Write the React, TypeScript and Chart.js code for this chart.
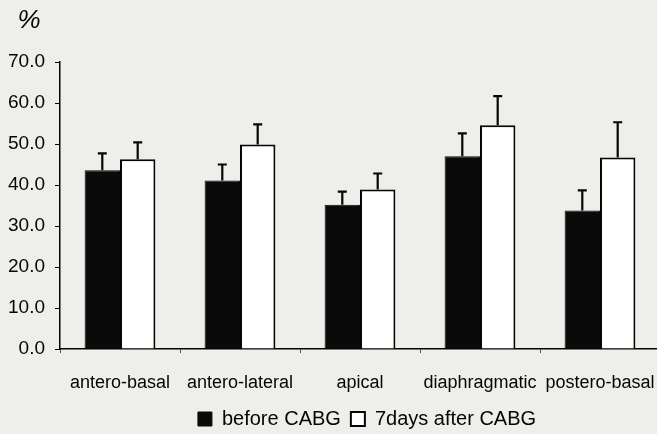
import React, { useEffect, useRef } from 'react';
import { Chart, registerables } from 'chart.js';

Chart.register(...registerables);

const categories = ['antero-basal', 'antero-lateral', 'apical', 'diaphragmatic', 'postero-basal'];
const beforeValues = [43.6, 41.1, 35.2, 47.0, 33.8];
const beforeErrors = [4.1, 3.9, 3.2, 5.6, 4.9];
const afterValues = [46.3, 49.9, 38.9, 54.6, 46.7];
const afterErrors = [4.1, 4.9, 3.9, 7.1, 8.6];
const seriesLabels = ['before CABG', '7days after CABG'];
const yMin = 0;
const yMax = 70;
const yStep = 10;

const FAMILY = '"Liberation Sans", Arial, Helvetica, sans-serif';
const INK = '#050505';

export default function App() {
  const ref = useRef<HTMLCanvasElement>(null);

  useEffect(() => {
    if (!ref.current) return;
    const errors = [beforeErrors, afterErrors];
    const errorBars = {
      id: 'errorBars',
      afterDatasetsDraw(chart: any) {
        const ctx = chart.ctx;
        const y = chart.scales.y;
        ctx.save();
        ctx.strokeStyle = INK;
        ctx.lineWidth = 2.2;
        chart.data.datasets.forEach((ds: any, di: number) => {
          const meta = chart.getDatasetMeta(di);
          meta.data.forEach((el: any, i: number) => {
            const v = ds.data[i] as number;
            const top = y.getPixelForValue(v + errors[di][i]);
            const x = el.x;
            ctx.beginPath();
            ctx.moveTo(x, el.y);
            ctx.lineTo(x, top);
            ctx.moveTo(x - 4.5, top);
            ctx.lineTo(x + 4.5, top);
            ctx.stroke();
          });
        });
        ctx.restore();
      },
    };
    const percentLabel = {
      id: 'percentLabel',
      afterDraw(chart: any) {
        const ctx = chart.ctx;
        ctx.save();
        ctx.fillStyle = INK;
        ctx.font = `italic 26px ${FAMILY}`;
        ctx.textAlign = 'center';
        ctx.textBaseline = 'middle';
        ctx.fillText('%', 29, 21);
        ctx.restore();
      },
    };
    const legendNudge = {
      id: 'legendNudge',
      afterLayout(chart: any) {
        const lg = chart.legend;
        if (!lg) return;
        lg.left += 37;
        lg.right += 37;
        lg.top += 5;
        lg.bottom += 5;
      },
    };

    const chart = new Chart(ref.current, {
      type: 'bar',
      data: {
        labels: categories,
        datasets: [
          {
            label: seriesLabels[0],
            data: beforeValues,
            backgroundColor: '#0a0a0a',
            borderColor: '#0a0a0a',
            borderWidth: 1,
          },
          {
            label: seriesLabels[1],
            data: afterValues,
            backgroundColor: '#ffffff',
            borderColor: INK,
            borderWidth: 2,
          },
        ],
      },
      options: {
        responsive: false,
        animation: false,
        datasets: { bar: { categoryPercentage: 0.59, barPercentage: 1 } },
        layout: { padding: { top: 62, left: 0, right: 0, bottom: 0 } },
        plugins: {
          legend: {
            position: 'bottom',
            labels: {
              boxWidth: 14,
              boxHeight: 14,
              color: INK,
              padding: 10,
              font: { size: 20, family: FAMILY },
            },
          },
          tooltip: { enabled: false },
          title: { display: false },
        },
        scales: {
          x: {
            grid: { drawOnChartArea: false, drawTicks: true, tickLength: 4, color: '#555' },
            border: { color: INK, width: 1.5 },
            ticks: {
              color: INK,
              padding: 19,
              maxRotation: 0,
              autoSkip: false,
              font: { size: 18, family: FAMILY },
            },
            afterFit(s: any) {
              s.height = 45;
              s.paddingLeft = 0;
              s.paddingRight = 0;
            },
          },
          y: {
            min: yMin,
            max: yMax,
            grid: { drawOnChartArea: false, drawTicks: true, tickLength: 5, color: INK },
            border: { color: INK, width: 1.5 },
            ticks: {
              stepSize: yStep,
              padding: 10,
              color: INK,
              font: { size: 19, family: FAMILY },
              callback: (v: any) => Number(v).toFixed(1),
            },
            afterFit(s: any) {
              s.width = 60;
            },
          },
        },
      },
      plugins: [errorBars, percentLabel, legendNudge],
    });
    return () => chart.destroy();
  }, []);

  return (
    <div
      style={{
        position: 'fixed',
        left: 0,
        top: 0,
        width: 657,
        height: 434,
        overflow: 'hidden',
        background: '#eeeeea',
      }}
    >
      <canvas ref={ref} width={660} height={434} style={{ display: 'block' }} />
    </div>
  );
}
